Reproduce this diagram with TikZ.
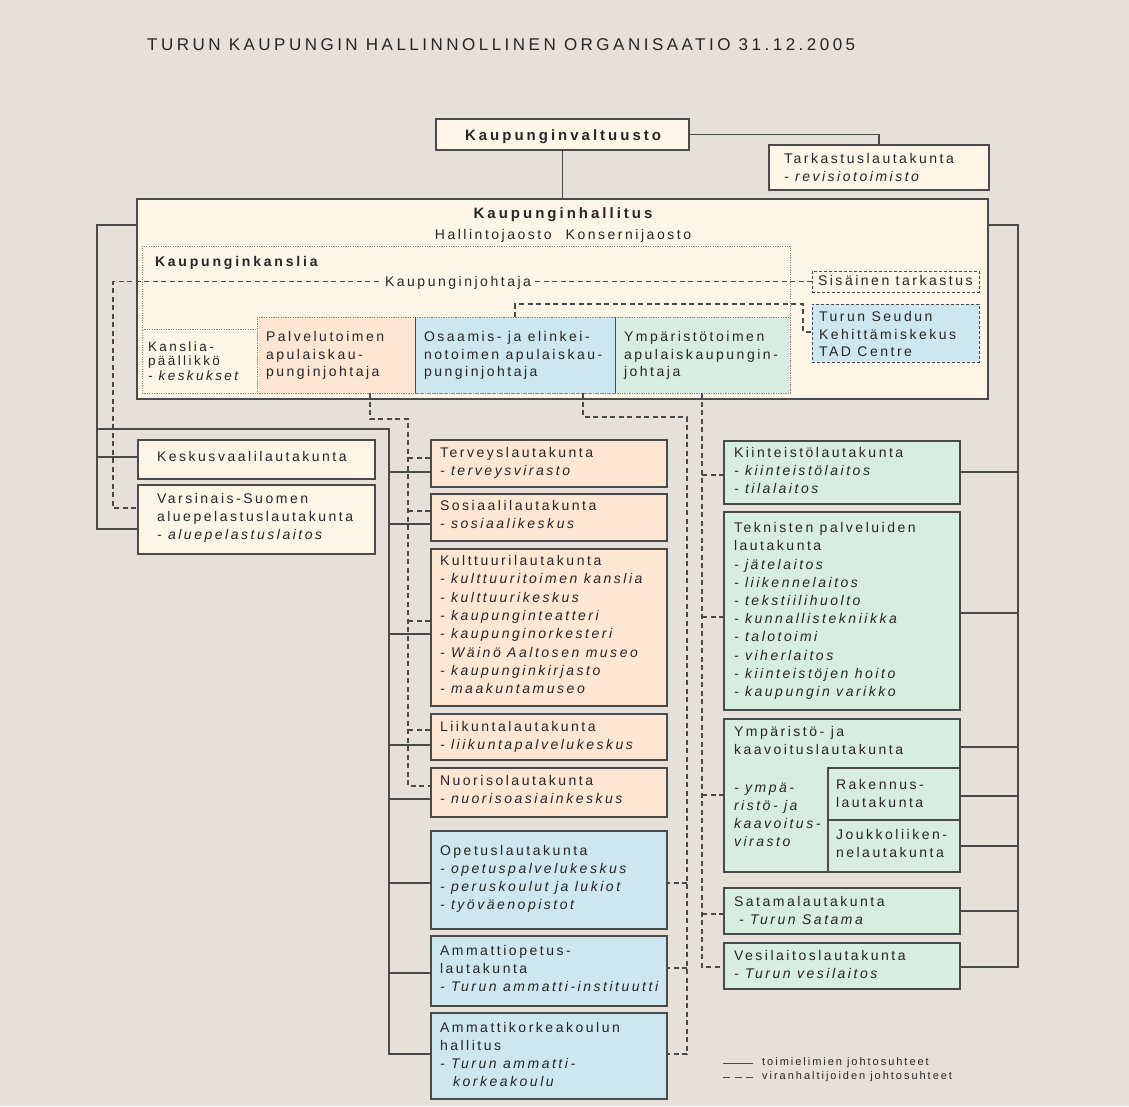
\documentclass[tikz,border=0pt]{standalone}
\usepackage{fontspec}
\setmainfont{Liberation Sans}[LetterSpace=18, BoldFeatures={LetterSpace=20}]
\usetikzlibrary{fit}
\definecolor{bgc}{HTML}{E6E0DA}
\definecolor{cream}{HTML}{FDF6E6}
\definecolor{peach}{HTML}{FDE6D4}
\definecolor{lblue}{HTML}{CDE6F0}
\definecolor{lgreen}{HTML}{D7EDE1}
\definecolor{lc}{HTML}{4A4A4A}
\definecolor{tc}{HTML}{262626}
\definecolor{dc}{HTML}{8A8580}
\newcommand\fs{\fontsize{14}{18}\selectfont}
\tikzset{
 bx/.style={draw=lc, line width=1.1pt, inner sep=0pt, outer sep=0pt},
 dbx/.style={draw=lc, line width=0.9pt, dash pattern=on 3pt off 2pt, inner sep=0pt, outer sep=0pt},
 obx/.style={draw=dc, line width=0.9pt, dash pattern=on 1.2pt off 1.2pt, inner sep=0pt, outer sep=0pt},
 tx/.style={anchor=north west, inner sep=0pt, outer sep=0pt, align=left, font=\fs, text=tc},
 sol/.style={draw=lc, line width=1.1pt},
 dsh/.style={draw=lc, line width=1.1pt, dash pattern=on 5pt off 3.5pt},
}
\begin{document}
\begin{tikzpicture}[x=1pt,y=-1pt]
\fill[bgc] (0,0) rectangle (1129,1106);
\useasboundingbox (0,0) rectangle (1129,1106);

% title
\node[anchor=west, inner sep=0pt, font=\fontsize{17}{20}\selectfont\addfontfeature{LetterSpace=20.5}, text=tc] (title) at (147,45) {TURUN KAUPUNGIN HALLINNOLLINEN ORGANISAATIO 31.12.2005};

% boxes
\node[bx, fill=cream, fit={(436,119) (689,150)}] (valt) {};
\node[bx, fill=cream, fit={(769,145) (989,190)}] (tark) {};
\node[bx, fill=cream, fit={(137,199) (988,399)}] (hall) {};
\node[obx, fit={(142,246) (790,393)}] (kans) {};
\node[obx, fill=cream, fit={(142,329) (257,393)}] (kp) {};
\node[obx, fill=peach, fit={(257,317) (415,393)}] (pal) {};
\node[obx, fill=lblue, fit={(415,317) (615,393)}] (osa) {};
\node[obx, fill=lgreen, fit={(615,317) (790,393)}] (ymp) {};
\draw[sol, line width=0.9pt] (pal.north east) -- (pal.south east);
\draw[sol, line width=0.9pt] (osa.north east) -- (osa.south east);
\node[dbx, fill=cream, fit={(812,271) (979,292)}] (sis) {};
\node[dbx, fill=lblue, fit={(812,304) (979,362)}] (tad) {};

\node[bx, fill=cream, fit={(138,440) (375,479)}] (kv) {};
\node[bx, fill=cream, fit={(138,485) (375,554)}] (vs) {};

\node[bx, fill=peach, fit={(431,440) (667,487)}] (terv) {};
\node[bx, fill=peach, fit={(431,494) (667,541)}] (sos) {};
\node[bx, fill=peach, fit={(431,549) (667,706)}] (kult) {};
\node[bx, fill=peach, fit={(431,714) (667,760)}] (liik) {};
\node[bx, fill=peach, fit={(431,768) (667,817)}] (nuor) {};
\node[bx, fill=lblue, fit={(431,831) (667,929)}] (opet) {};
\node[bx, fill=lblue, fit={(431,936) (667,1006)}] (amo) {};
\node[bx, fill=lblue, fit={(431,1013) (667,1099)}] (amk) {};

\node[bx, fill=lgreen, fit={(724,441) (960,504)}] (kiin) {};
\node[bx, fill=lgreen, fit={(724,512) (960,710)}] (tekn) {};
\node[bx, fill=lgreen, fit={(724,719) (960,872)}] (ykl) {};
\node[bx, fill=lgreen, fit={(828,768) (960,820)}] (rak) {};
\node[bx, fill=lgreen, fit={(828,820) (960,872)}] (jouk) {};
\node[bx, fill=lgreen, fit={(724,888) (960,934)}] (sat) {};
\node[bx, fill=lgreen, fit={(724,943) (960,989)}] (ves) {};

% solid connectors
\draw[sol] (valt.south) -- (hall.north);
\draw[sol] (valt.east) -| (tark.north);
\draw[sol] (hall.west |- 0,225) -| (97,529) -- (vs.west |- 0,529);
\draw[sol] (97,457) -- (kv.west |- 0,457);
\draw[sol] (97,429) -| (389,1054) -- (amk.west |- 0,1054);
\draw[sol] (389,472) -- (terv.west |- 0,472);
\draw[sol] (389,524) -- (sos.west |- 0,524);
\draw[sol] (389,634) -- (kult.west |- 0,634);
\draw[sol] (389,745) -- (liik.west |- 0,745);
\draw[sol] (389,799) -- (nuor.west |- 0,799);
\draw[sol] (389,883) -- (opet.west |- 0,883);
\draw[sol] (389,973) -- (amo.west |- 0,973);
\draw[sol] (hall.east |- 0,225) -| (1018,967) -- (ves.east |- 0,967);
\draw[sol] (1018,472) -- (kiin.east |- 0,472);
\draw[sol] (1018,613) -- (tekn.east |- 0,613);
\draw[sol] (1018,747) -- (ykl.east |- 0,747);
\draw[sol] (1018,796) -- (rak.east |- 0,796);
\draw[sol] (1018,846) -- (jouk.east |- 0,846);
\draw[sol] (1018,911) -- (sat.east |- 0,911);

% dashed connectors
\draw[dsh] (sis.west) -- (113,281.5) |- (vs.west |- 0,508);
\draw[dsh] (osa.north) |- (803,304) -- (803,332) -- (tad.west |- 0,332);
\draw[dsh] (pal.south -| 370,0) |- (408,419) -- (408,786) -- (nuor.west |- 0,786);
\draw[dsh] (408,458) -- (terv.west |- 0,458);
\draw[dsh] (408,511) -- (sos.west |- 0,511);
\draw[dsh] (408,621) -- (kult.west |- 0,621);
\draw[dsh] (408,730) -- (liik.west |- 0,730);
\draw[dsh] (osa.south -| 583,0) |- (687,417) -- (687,1054) -- (amk.east |- 0,1054);
\draw[dsh] (687,883) -- (opet.east |- 0,883);
\draw[dsh] (687,968) -- (amo.east |- 0,968);
\draw[dsh] (ymp.south -| 702,0) -- (702,967) -- (ves.west |- 0,967);
\draw[dsh] (702,475) -- (kiin.west |- 0,475);
\draw[dsh] (702,617) -- (tekn.west |- 0,617);
\draw[dsh] (702,795) -- (ykl.west |- 0,795);
\draw[dsh] (702,914) -- (sat.west |- 0,914);

% texts
\node[tx, anchor=base, font=\fontsize{15}{18}\selectfont\bfseries] (valtT) at (563,140) {Kaupunginvaltuusto};
\node[tx] (tarkT) at (784,153.5) {Tarkastuslautakunta\\\textit{- revisiotoimisto}};
\node[tx, anchor=base, font=\fontsize{15}{18}\selectfont\bfseries] (hallT) at (563,218.5) {Kaupunginhallitus};
\node[tx, anchor=base] (hallT2) at (563,239) {Hallintojaosto\hspace{14pt}Konsernijaosto};
\node[tx, font=\fs\bfseries] (kansT) at (155,256.5) {Kaupunginkanslia};
\node[tx, anchor=base, fill=cream, inner xsep=3pt] (kj) at (458,286) {Kaupunginjohtaja};
\node[tx] (sisT) at (818,275.5) {Sisäinen tarkastus};
\node[tx, font=\fontsize{14}{17.5}\selectfont] (tadT) at (819,311.5) {Turun Seudun\\Kehittämiskekus\\TAD Centre};
\node[tx, font=\fontsize{13.5}{14.5}\selectfont] (kpT) at (148,341.5) {Kanslia-\\päällikkö\\\textit{- keskukset}};
\node[tx, font=\fontsize{14}{17.5}\selectfont] (palT) at (266,331.5) {Palvelutoimen\\apulaiskau-\\punginjohtaja};
\node[tx, font=\fontsize{14}{17.5}\selectfont] (osaT) at (424,331.5) {Osaamis- ja elinkei-\\notoimen apulaiskau-\\punginjohtaja};
\node[tx, font=\fontsize{14}{17.5}\selectfont] (ympT) at (624,331.5) {Ympäristötoimen\\apulaiskaupungin-\\johtaja};
\node[tx] (kvT) at (157,451.5) {Keskusvaalilautakunta};
\node[tx] (vsT) at (157,493.5) {Varsinais-Suomen\\aluepelastuslautakunta\\\textit{- aluepelastuslaitos}};
\node[tx] (tervT) at (440,447.5) {Terveyslautakunta\\\textit{- terveysvirasto}};
\node[tx] (sosT) at (440,500.5) {Sosiaalilautakunta\\\textit{- sosiaalikeskus}};
\node[tx, font=\fontsize{14}{18.3}\selectfont] (kultT) at (440,555.5) {Kulttuurilautakunta\\\textit{- kulttuuritoimen kanslia}\\\textit{- kulttuurikeskus}\\\textit{- kaupunginteatteri}\\\textit{- kaupunginorkesteri}\\\textit{- Wäinö Aaltosen museo}\\\textit{- kaupunginkirjasto}\\\textit{- maakuntamuseo}};
\node[tx] (liikT) at (440,721.5) {Liikuntalautakunta\\\textit{- liikuntapalvelukeskus}};
\node[tx] (nuorT) at (440,775.5) {Nuorisolautakunta\\\textit{- nuorisoasiainkeskus}};
\node[tx] (opetT) at (440,845.5) {Opetuslautakunta\\\textit{- opetuspalvelukeskus}\\\textit{- peruskoulut ja lukiot}\\\textit{- työväenopistot}};
\node[tx] (amoT) at (440,945.5) {Ammattiopetus-\\lautakunta\\\textit{- Turun ammatti-instituutti}};
\node[tx] (amkT) at (440,1022.5) {Ammattikorkeakoulun\\hallitus\\\textit{- Turun ammatti-}\\\hspace*{13pt}\textit{korkeakoulu}};
\node[tx] (kiinT) at (734,447.5) {Kiinteistölautakunta\\\textit{- kiinteistölaitos}\\\textit{- tilalaitos}};
\node[tx, font=\fontsize{14}{18.2}\selectfont] (teknT) at (734,522.5) {Teknisten palveluiden\\lautakunta\\\textit{- jätelaitos}\\\textit{- liikennelaitos}\\\textit{- tekstiilihuolto}\\\textit{- kunnallistekniikka}\\\textit{- talotoimi}\\\textit{- viherlaitos}\\\textit{- kiinteistöjen hoito}\\\textit{- kaupungin varikko}};
\node[tx] (yklT) at (734,726.5) {Ympäristö- ja\\kaavoituslautakunta};
\node[tx] (yklT2) at (734,782.5) {\textit{- ympä-}\\\textit{ristö- ja}\\\textit{kaavoitus-}\\\textit{virasto}};
\node[tx] (rakT) at (836,779.5) {Rakennus-\\lautakunta};
\node[tx] (joukT) at (836,829.5) {Joukkoliiken-\\nelautakunta};
\node[tx] (satT) at (734,896.5) {Satamalautakunta\\\hspace*{5pt}\textit{- Turun Satama}};
\node[tx] (vesT) at (734,950.5) {Vesilaitoslautakunta\\\textit{- Turun vesilaitos}};

% legend
\coordinate (lg1a) at (723,1063);
\coordinate (lg1b) at (753,1063);
\coordinate (lg2a) at (723,1077);
\coordinate (lg2b) at (753,1077);
\draw[sol, line width=0.9pt] (lg1a) -- (lg1b);
\draw[sol, line width=0.9pt, dash pattern=on 7pt off 4.5pt] (lg2a) -- (lg2b);
\node[anchor=west, inner sep=0pt, text=tc, font=\fontsize{11}{12}\selectfont] (lgt1) at (762,1063) {toimielimien johtosuhteet};
\node[anchor=west, inner sep=0pt, text=tc, font=\fontsize{11}{12}\selectfont] (lgt2) at (762,1077) {viranhaltijoiden johtosuhteet};
\end{tikzpicture}
\end{document}
